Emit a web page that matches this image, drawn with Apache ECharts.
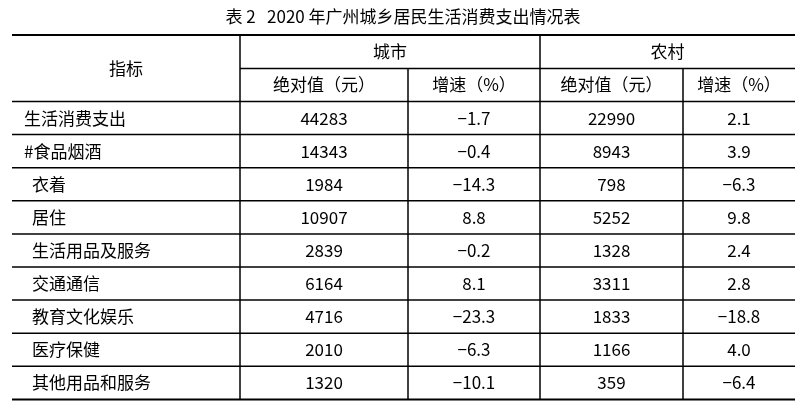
<!DOCTYPE html>
<html>
<head>
<meta charset="UTF-8">
<script src="https://cdn.jsdelivr.net/npm/echarts@6/dist/echarts.min.js"></script>
<style>html,body{margin:0;background:#fff}#main{width:806px;height:417px}</style>
</head>
<body>
<div id="main"></div>
<script>
var title = '表 2   2020 年广州城乡居民生活消费支出情况表';
var items = ['生活消费支出', '#食品烟酒', '衣着', '居住', '生活用品及服务', '交通通信', '教育文化娱乐', '医疗保健', '其他用品和服务'];
var indent = [0, 0, 1, 1, 1, 1, 1, 1, 1];
var cityValue = ['44283', '14343', '1984', '10907', '2839', '6164', '4716', '2010', '1320'];
var cityGrowth = ['-1.7', '-0.4', '-14.3', '8.8', '-0.2', '8.1', '-23.3', '-6.3', '-10.1'];
var ruralValue = ['22990', '8943', '798', '5252', '1328', '3311', '1833', '1166', '359'];
var ruralGrowth = ['2.1', '3.9', '-6.3', '9.8', '2.4', '2.8', '-18.8', '4.0', '-6.4'];

(function () {
  var font = '"Noto Sans CJK SC", "DejaVu Serif", serif';
  var xs = [12, 240, 408, 540, 683, 795];
  var tableTop = 35, h1 = 68.5, h2 = 101.5, rowH = 33.1;
  var bottom = h2 + rowH * items.length;
  var g = [];
  function line(x1, y1, x2, y2, w) {
    g.push({ type: 'line', shape: { x1: x1, y1: y1, x2: x2, y2: y2 }, style: { stroke: '#000', lineWidth: w || 1.5 } });
  }
  function text(s, x, y, align) {
    g.push({ type: 'text', x: x, y: y, style: { text: s, font: '17px ' + font, fill: '#000', align: align || 'center', verticalAlign: 'middle' } });
  }
  text(title, 403, 17);
  line(xs[0], tableTop, xs[5], tableTop, 2);
  line(xs[0], bottom, xs[5], bottom, 2);
  line(xs[1], h1, xs[5], h1);
  line(xs[0], h2, xs[5], h2);
  for (var i = 1; i < items.length; i++) line(xs[0], h2 + rowH * i, xs[5], h2 + rowH * i);
  line(xs[1], tableTop, xs[1], bottom);
  line(xs[3], tableTop, xs[3], bottom);
  line(xs[2], h1, xs[2], bottom);
  line(xs[4], h1, xs[4], bottom);
  text('指标', (xs[0] + xs[1]) / 2, (tableTop + h2) / 2);
  text('城市', (xs[1] + xs[3]) / 2, (tableTop + h1) / 2);
  text('农村', (xs[3] + xs[5]) / 2, (tableTop + h1) / 2);
  var sub = ['绝对值（元）', '增速（%）', '绝对值（元）', '增速（%）'];
  for (var j = 0; j < 4; j++) text(sub[j], (xs[j + 1] + xs[j + 2]) / 2, (h1 + h2) / 2);
  var cols = [cityValue, cityGrowth, ruralValue, ruralGrowth];
  for (var r = 0; r < items.length; r++) {
    var cy = h2 + rowH * (r + 0.5);
    text(items[r], 24 + indent[r] * 8, cy, 'left');
    for (var c = 0; c < 4; c++) text(cols[c][r].replace('-', '−'), (xs[c + 1] + xs[c + 2]) / 2, cy);
  }
  var chart = echarts.init(document.getElementById('main'));
  chart.setOption({ animation: false, graphic: g });
})();
</script>
</body>
</html>
